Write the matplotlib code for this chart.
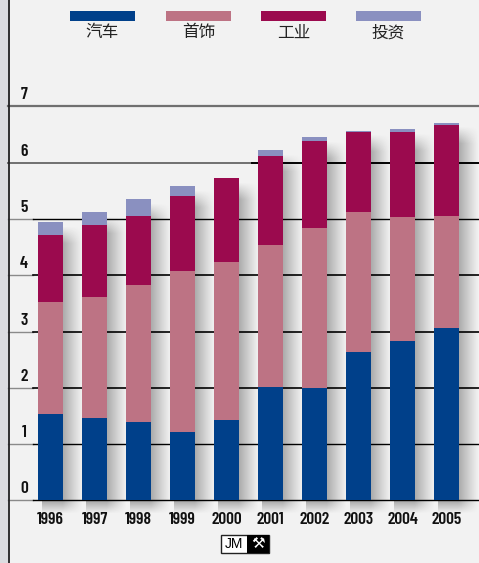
import numpy as np
import matplotlib
matplotlib.use("Agg")
import matplotlib.pyplot as plt
from matplotlib.patches import Rectangle

years = ["1996", "1997", "1998", "1999", "2000", "2001", "2002", "2003", "2004", "2005"]
auto = [1.53, 1.46, 1.40, 1.21, 1.42, 2.02, 1.99, 2.63, 2.84, 3.06]
jewel = [1.99, 2.16, 2.42, 2.86, 2.81, 2.51, 2.84, 2.50, 2.19, 2.00]
industry = [1.19, 1.28, 1.24, 1.33, 1.49, 1.58, 1.55, 1.41, 1.52, 1.60]
invest = [0.23, 0.22, 0.29, 0.18, 0.00, 0.11, 0.07, 0.03, 0.04, 0.05]
series_names = ["汽车", "首饰", "工业", "投资"]
colors = ["#00408a", "#bd7384", "#9b0a4e", "#8a90c0"]
yticks = [0, 1, 2, 3, 4, 5, 6, 7]

W, H = 479, 563
fig = plt.figure(figsize=(W / 100, H / 100), dpi=100)
fig.patch.set_facecolor("#f2f2f2")

num_font = ["Barlow Condensed", "DejaVu Sans"]
cjk_font = ["Noto Sans CJK SC", "DejaVu Sans"]

# left gray strip and dark line
fig.add_artist(Rectangle((0, 0), 8 / W, 1, transform=fig.transFigure, color="#dcdde0", zorder=0))
fig.add_artist(plt.Line2D([8.5 / W, 8.5 / W], [0, 1], transform=fig.transFigure, color="#222222", lw=1.3))

# axes: x pixel 8..479, y pixel 500 (0) .. 106 (7)
left = 8 / W
bottom = (H - 500.4) / H
top_px = 106.3
ax = fig.add_axes([left, bottom, 1 - left, (500.4 - top_px) / H])
ax.set_facecolor("none")
xmin = -(50.5 - 8) / 44
xmax = (479 - 50.5) / 44
for s in ax.spines.values():
    s.set_visible(False)
ax.set_xticks([])
ax.set_yticks([])

x = np.arange(len(years))
width = 25 / 44

# soft drop shadows to the right of each bar
totals = np.array(auto) + np.array(jewel) + np.array(industry) + np.array(invest)
nx, ny = 80, 300
for xi, tot in zip(x, totals):
    x0 = xi - width / 2 + 0.1
    x1 = xi + width / 2 + 0.45
    y0 = -0.25
    y1 = tot - 0.08
    gx = np.linspace(x0, x1, nx)
    edge = xi + width / 2
    t = np.clip((gx - edge) / (x1 - edge), 0, 1)
    ax_alpha = np.where(gx < edge, 1.0, (1 - t) ** 1.1)
    gy = np.linspace(y0, y1, ny)
    ay = np.clip((y1 - gy) / 0.3, 0, 1) * np.clip((gy - y0) / 0.22, 0, 1)
    A = np.outer(ay[::-1], ax_alpha) * 0.34
    img = np.zeros((ny, nx, 4))
    img[..., :3] = 0.12
    img[..., 3] = A
    ax.imshow(img, extent=(x0, x1, y0, y1), aspect="auto", zorder=1,
              interpolation="bilinear", clip_on=False)

ax.set_xlim(xmin, xmax)
ax.set_ylim(0, 7)

# gridlines
xsplit = xmin + 25 / 44
for v in yticks:
    if v == 7:
        ax.plot([xmin, xmax], [v, v], color="#707070", lw=1.6, zorder=2, clip_on=False)
    elif v == 6:
        xs6 = xmin + 244 / 44
        ax.plot([xmin, xs6], [v, v], color="#707070", lw=1.4, zorder=2, clip_on=False)
        ax.plot([xs6, xmax], [v, v], color="#000000", lw=1.4, zorder=2, clip_on=False)
    else:
        ax.plot([xmin, xsplit], [v, v], color="#8a8a8a", lw=1.0, zorder=2, clip_on=False)
        ax.plot([xsplit, xmax], [v, v], color="#000000", lw=1.2 if v in (2, 3, 4) else 1.0,
                zorder=2, clip_on=False)
    ax.text(xmin + 16 / 44, v + 0.07, str(v), ha="center", va="bottom",
            family=num_font, fontweight="semibold", fontsize=12.5, color="#111111")

# bars
b = np.zeros(len(years))
for vals, c in zip([auto, jewel, industry, invest], colors):
    ax.bar(x, vals, width=width, bottom=b, color=c, zorder=3, linewidth=0)
    b = b + np.array(vals)

# year labels
for xi, yr in zip(x, years):
    ax.text(xi, -0.34, yr, ha="center", va="center", family=num_font,
            fontweight="semibold", fontsize=12.5, color="#111111")

# legend
leg_x = [70, 166, 261, 356]
for lx, name, c in zip(leg_x, series_names, colors):
    fig.add_artist(Rectangle((lx / W, 1 - 21 / H), 65 / W, 10 / H,
                             transform=fig.transFigure, color=c, lw=0))
    fig.text((lx + 32.5) / W, 1 - 33 / H, name, ha="center", va="center",
             family=cjk_font, fontsize=12, fontweight="medium", color="#222222")

# JM logo
fig.add_artist(Rectangle((221 / W, 1 - 553 / H), 48 / W, 18 / H, transform=fig.transFigure,
                         facecolor="white", edgecolor="#222222", lw=1))
fig.add_artist(Rectangle((247 / W, 1 - 553 / H), 22 / W, 18 / H, transform=fig.transFigure,
                         facecolor="black", edgecolor="black", lw=0))
fig.text(234 / W, 1 - 544 / H, "JM", ha="center", va="center", fontsize=10,
         family=["Liberation Sans", "DejaVu Sans"], color="black")
fig.text(258 / W, 1 - 544 / H, "⚒", ha="center", va="center", fontsize=11,
         family=["DejaVu Sans"], color="white")

fig.savefig("out.png", dpi=100, facecolor=fig.get_facecolor())
